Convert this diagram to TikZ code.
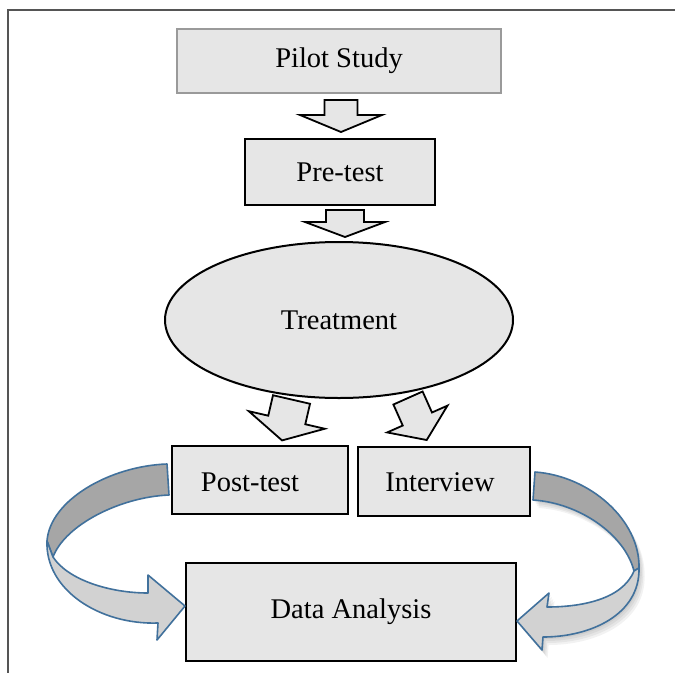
\documentclass[tikz,border=0pt]{standalone}
\usepackage{fontspec}
\setmainfont{Liberation Serif}
\usetikzlibrary{shapes.geometric}
\definecolor{boxfill}{HTML}{E6E6E6}
\definecolor{arrowline}{HTML}{41719C}
\definecolor{darkband}{HTML}{A6A6A6}
\definecolor{lightband}{HTML}{D2D2D2}
\definecolor{framecol}{HTML}{555555}
\definecolor{pilotline}{HTML}{9A9A9A}

% x, y, rotation, shaft half width, head half width, length, head length
\newcommand{\blkarrow}[7]{%
  \draw[blockarrow, shift={(#1,#2)}, rotate=#3]
    (-#4,0) -- (#4,0) -- (#4,#6-#7) -- (#5,#6-#7) -- (0,#6)
    -- (-#5,#6-#7) -- (-#4,#6-#7) -- cycle;}

\newcommand{\leftdark}{(167,464) .. controls (110,466) and (50,500) .. (47,541)
  -- (53,557) .. controls (65,525) and (120,497) .. (169,495) -- cycle}
\newcommand{\leftlight}{(53,557) .. controls (68,580) and (110,593) .. (148,593)
  -- (148,575) -- (185,606) -- (157,640) -- (158,623)
  .. controls (100,625) and (45,590) .. (47,541) -- cycle}
\newcommand{\rightdark}{(535,472) .. controls (590,476) and (640,520) .. (639,568)
  -- (634,571) .. controls (625,535) and (580,503) .. (533,500) -- cycle}
\newcommand{\rightlight}{(634,571) .. controls (622,600) and (580,607) .. (547,607)
  -- (549,593) -- (517,621) -- (542,650) -- (543,637)
  .. controls (590,637) and (640,615) .. (639,568) -- cycle}

\begin{document}
\begin{tikzpicture}[x=1pt,y=-1pt,
  txt/.style={font=\fontsize{28.5}{34}\selectfont, inner sep=0pt},
  procbox/.style={draw=black, line width=2pt, fill=boxfill, rectangle, inner sep=0pt},
  blockarrow/.style={draw=black, line width=1.8pt, fill=boxfill, line join=miter},
  bandarrow/.style={draw=arrowline, line width=1.6pt, line join=round},
  softshadow/.style={black, opacity=.05}]
\useasboundingbox (0,0) rectangle (675,673);
\fill[white] (0,0) rectangle (675,673);
\draw[framecol, line width=1.3pt] (675,10) -- (8,10) -- (8,673);

% boxes
\node[procbox, draw=pilotline, minimum width=324pt, minimum height=64pt] (pilot) at (339,61) {};
\node[txt] (pilottxt) at (pilot.center) {Pilot Study};
\node[procbox, minimum width=190pt, minimum height=66pt] (pre) at (340,172) {};
\node[txt] (pretxt) at (pre.center) {Pre-test};
\node[procbox, ellipse, minimum width=348pt, minimum height=156pt] (treat) at (339,320) {};
\node[txt] (treattxt) at (treat.center) {Treatment};
\node[procbox, minimum width=176pt, minimum height=68pt] (post) at (260,480) {};
\node[txt] (posttxt) at (250,482) {Post-test};
\node[procbox, minimum width=172pt, minimum height=69pt] (inter) at (444,481.5) {};
\node[txt] (intertxt) at (440,482) {Interview};
\node[procbox, minimum width=330pt, minimum height=98pt] (data) at (351,612) {};
\node[txt] (datatxt) at (data.center) {Data Analysis};

% block arrows
\blkarrow{341}{100}{0}{16.5}{41}{32}{17}
\blkarrow{345}{210}{0}{19}{40}{27}{15}
\blkarrow{291.5}{399.5}{-13}{19}{39}{42}{21}
\blkarrow{408}{398}{24}{16}{33}{46}{23}

% curved arrows with a soft shadow on the right one
\foreach \s in {2,4,6,8}{
  \fill[softshadow, shift={(\s*0.7,\s)}] \rightdark;
  \fill[softshadow, shift={(\s*0.7,\s)}] \rightlight;
}
\filldraw[bandarrow, fill=darkband] \leftdark;
\filldraw[bandarrow, fill=lightband] \leftlight;
\filldraw[bandarrow, fill=darkband] \rightdark;
\filldraw[bandarrow, fill=lightband] \rightlight;
\end{tikzpicture}
\end{document}
